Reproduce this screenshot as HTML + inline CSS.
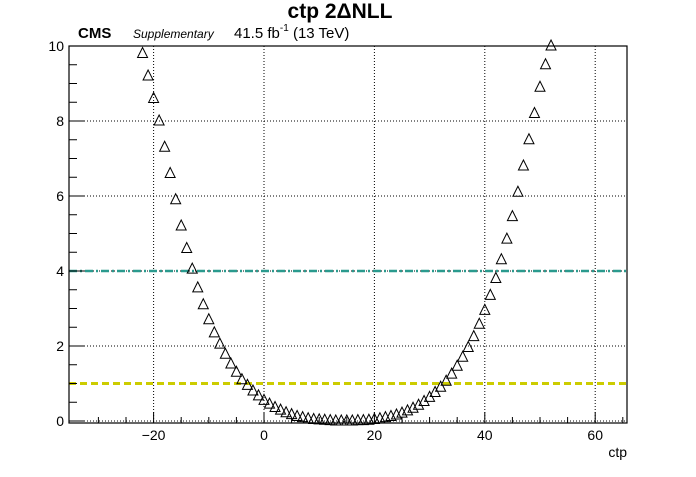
<!DOCTYPE html>
<html><head><meta charset="utf-8"><style>
body{margin:0;background:#fff;font-family:"Liberation Sans",sans-serif}
svg text{font-family:"Liberation Sans",sans-serif}
</style></head><body>
<svg id="c" width="696" height="472" xmlns="http://www.w3.org/2000/svg">
<rect width="696" height="472" fill="#fff"/>
<text x="340" y="18" font-size="21" font-weight="bold" text-anchor="middle">ctp 2ΔNLL</text>
<text x="78" y="38" font-size="15" font-weight="bold">CMS</text>
<text x="133" y="38" font-size="12" font-style="italic">Supplementary</text>
<text x="234" y="38" font-size="15">41.5 fb<tspan dy="-7" font-size="10">-1</tspan><tspan dy="7"> (13 TeV)</tspan></text>
<text x="627" y="457" font-size="14" text-anchor="end">ctp</text>
<g id="grid"></g><g id="ref"></g><g id="marks"></g><g id="axes"></g>
</svg>
<script>
const xs=[-22,-21,-20,-19,-18,-17,-16,-15,-14,-13,-12,-11,-10,-9,-8,-7,-6,-5,-4,-3,-2,-1,0,1,2,3,4,5,6,7,8,9,10,11,12,13,14,15,16,17,18,19,20,21,22,23,24,25,26,27,28,29,30,31,32,33,34,35,36,37,38,39,40,41,42,43,44,45,46,47,48,49,50,51,52];
const ys=[9.8,9.2,8.6,8.0,7.3,6.6,5.9,5.2,4.6,4.05,3.55,3.1,2.7,2.35,2.05,1.78,1.52,1.3,1.1,0.95,0.8,0.67,0.55,0.45,0.36,0.29,0.22,0.17,0.12,0.09,0.06,0.04,0.03,0.02,0.01,0,0,0,0,0.01,0.01,0.02,0.04,0.06,0.09,0.12,0.16,0.21,0.27,0.34,0.42,0.52,0.63,0.76,0.9,1.06,1.25,1.46,1.7,1.96,2.25,2.58,2.95,3.35,3.8,4.3,4.85,5.45,6.1,6.8,7.5,8.2,8.9,9.5,10.0];
const xTicks=[-20,0,20,40,60];
const yTicks=[0,2,4,6,8,10];
const refLevels=[1,4];
const L=69,R=627,T=46,B=423;
const X=v=>264+v*5.52, Y=v=>421-v*37.5;
const NS="http://www.w3.org/2000/svg";
function mk(p,t,a){const e=document.createElementNS(NS,t);for(const k in a)e.setAttribute(k,a[k]);document.getElementById(p).appendChild(e);return e;}
xTicks.forEach(v=>{const e=mk('grid','line',{x1:X(v),x2:X(v),y1:T,y2:B,stroke:'#000','stroke-dasharray':'1,2','stroke-width':1});


const t=mk('axes','text',{x:X(v),y:440,'font-size':14,'text-anchor':'middle'});t.textContent=v<0?'−'+(-v):v;


mk('axes','line',{x1:X(v),x2:X(v),y1:B,y2:B-11,stroke:'#000'});});
for(let v=-30;v<=65;v+=5){if(v%20)mk('axes','line',{x1:X(v),x2:X(v),y1:B,y2:B-6,stroke:'#000'});}
yTicks.forEach(v=>{const e=mk('grid','line',{x1:L,x2:R,y1:Y(v),y2:Y(v),stroke:'#000','stroke-dasharray':'1,2','stroke-width':1});


const t=mk('axes','text',{x:64,y:Y(v)+5,'font-size':14,'text-anchor':'end'});t.textContent=v;


mk('axes','line',{x1:L,x2:L+16,y1:Y(v),y2:Y(v),stroke:'#000'});});
for(let v=0.5;v<10;v+=0.5){if(v%2)mk('axes','line',{x1:L,x2:L+8,y1:Y(v),y2:Y(v),stroke:'#000'});}
const f=mk('axes','rect',{x:L,y:T,width:R-L,height:B-T,fill:'none',stroke:'#000','stroke-width':1.2});


const r1=mk('ref','line',{x1:L,x2:R,y1:Y(refLevels[0]),y2:Y(refLevels[0]),stroke:'#cccc00','stroke-width':3,'stroke-dasharray':'7,4'});


const r2=mk('ref','line',{x1:L,x2:R,y1:Y(refLevels[1]),y2:Y(refLevels[1]),stroke:'#2a9a8e','stroke-width':2.5,'stroke-dasharray':'8,3,2,3'});


xs.forEach((x,i)=>{const cx=X(x),cy=Y(ys[i]);
const p=mk('marks','polygon',{points:`${cx},${cy-6} ${cx-5},${cy+4} ${cx+5},${cy+4}`,fill:'none',stroke:'#000','stroke-width':1});

});
</script>
</body></html>
